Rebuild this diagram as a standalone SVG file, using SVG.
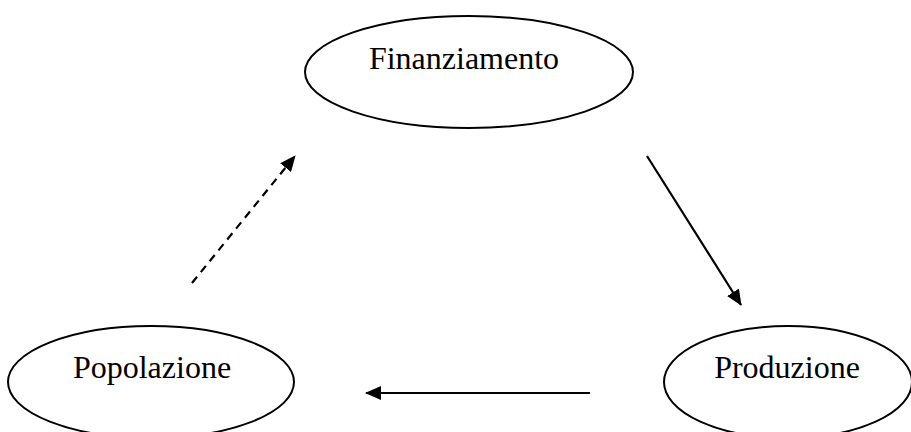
<svg xmlns="http://www.w3.org/2000/svg" width="911" height="432" viewBox="0 0 911 432">
<style>
.node ellipse{fill:#fff;stroke:#000;stroke-width:2}
.node text{font-family:"Liberation Serif","Times New Roman",serif;font-size:32px;fill:#000;text-anchor:middle}
.edge{stroke:#000;stroke-width:2.2;fill:none}
</style>
<defs>
<marker id="arr" viewBox="0 0 16 14" refX="15" refY="7" markerWidth="16" markerHeight="14" orient="auto" markerUnits="userSpaceOnUse">
<path d="M0,0 L16,7 L0,14 Z" fill="#000"/>
</marker>
</defs>
<rect width="911" height="432" fill="#fff"/>
<g id="finanziamento" class="node">
<ellipse cx="469" cy="72" rx="164" ry="56"/>
<text x="464" y="69">Finanziamento</text>
</g>
<g id="popolazione" class="node">
<ellipse cx="151" cy="382" rx="143" ry="56"/>
<text x="152" y="378">Popolazione</text>
</g>
<g id="produzione" class="node">
<ellipse cx="788" cy="382" rx="124" ry="56"/>
<text x="787" y="378">Produzione</text>
</g>
<g id="connectors">
<line class="edge" x1="192" y1="283" x2="295" y2="156" stroke-dasharray="8,6" marker-end="url(#arr)"/>
<line class="edge" x1="647" y1="156" x2="741" y2="305" marker-end="url(#arr)"/>
<line class="edge" x1="590" y1="393" x2="366" y2="393" marker-end="url(#arr)"/>
</g>
</svg>
